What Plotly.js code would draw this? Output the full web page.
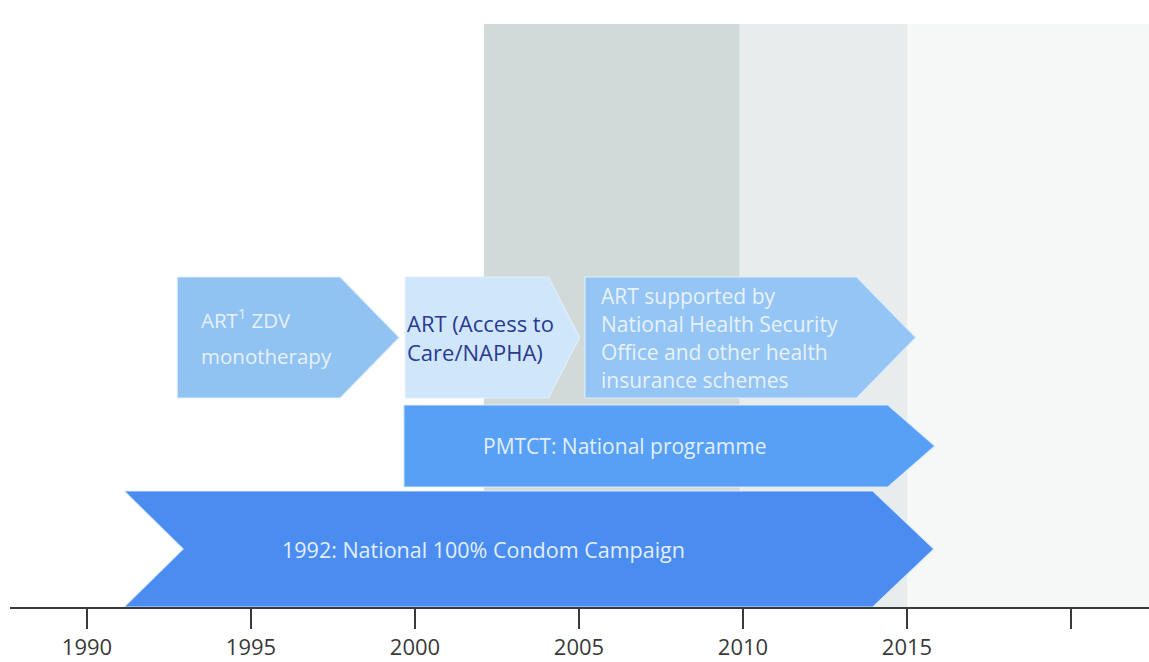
<!DOCTYPE html>
<html>
<head>
<meta charset="utf-8">
<script src="https://cdn.plot.ly/plotly-3.0.1.min.js"></script>
<style>
  html, body { margin: 0; padding: 0; background: #ffffff; }
  #chart { width: 1149px; height: 662px; }
</style>
</head>
<body>
<div id="chart"></div>
<script>
// ---------------- DATA ----------------
const programmeLines = [
  ['ART<sup>1</sup> ZDV', 'monotherapy'],
  ['ART (Access to', 'Care/NAPHA)'],
  ['ART supported by', 'National Health Security', 'Office and other health', 'insurance schemes'],
  ['PMTCT: National programme'],
  ['1992: National 100% Condom Campaign']
];
const startYear = [1992.75, 1999.70, 2005.18, 1999.66, 1991.13];
const endYear   = [1999.52, 2005.02, 2015.27, 2015.85, 2015.82];
const lane      = ['art', 'art', 'art', 'pmtct', 'condom'];

const periodStart = [2002.1, 2009.9, 2015.0];
const periodEnd   = [2009.9, 2015.0, 2022.4];

const tickYears  = [1990, 1995, 2000, 2005, 2010, 2015];
const tickLabels = ['1990', '1995', '2000', '2005', '2010', '2015'];
const unlabelledTickYears = [2020];

// ---------------- STYLE ----------------
const laneBand = { art: [209, 330], pmtct: [120, 202], condom: [0, 116] };
const headDepth = [1.80, 0.95, 1.80, 1.43, 1.86];
const notchDepth = [0, 0, 0, 0, 1.80];
const fillColors = ['#91c3f2', '#d0e7fb', '#94c5f4', '#57a0f6', '#4a8cf0'];
const textColors = ['#e6f1fc', '#2b3a8f', '#e8f2fc', '#e2effd', '#e2effd'];
const textAlign  = ['left', 'left', 'left', 'center', 'center'];
const textX      = [1993.42, 1999.70, 2005.6, 2006.4, 2002.1];
const lineGap    = [37, 29, 28, 0, 0];
const textSize   = [20.5, 22, 21, 21, 21.5];
const periodColors = ['#d1dad9', '#e8ecec', '#f6f7f7'];

const FONT = '"Open Sans", "Noto Sans", sans-serif';

const traces = [];
const annotations = [];

programmeLines.forEach((lines, i) => {
  const [yb, yt] = laneBand[lane[i]];
  const ym = (yb + yt) / 2;
  const x0 = startYear[i], x1 = endYear[i];
  const h = headDepth[i], n = notchDepth[i];
  traces.push({
    type: 'scatter',
    mode: 'lines',
    x: [x0, x1 - h, x1, x1 - h, x0, x0 + n, x0],
    y: [yt, yt, ym, yb, yb, ym, yt],
    fill: 'toself',
    fillcolor: fillColors[i],
    line: { color: 'rgba(225,238,252,0.9)', width: 1.2 },
    hoverinfo: 'skip',
    showlegend: false
  });
  const nLines = lines.length;
  lines.forEach((t, k) => {
    const y = ym + ((nLines - 1) / 2 - k) * lineGap[i];
    annotations.push({
      x: textX[i], y: y, xref: 'x', yref: 'y',
      text: t, showarrow: false,
      xanchor: textAlign[i], yanchor: 'middle',
      font: { family: FONT, size: textSize[i], color: textColors[i] }
    });
  });
});

const shapes = periodStart.map((s, i) => ({
  type: 'rect', xref: 'x', yref: 'paper',
  x0: s, x1: periodEnd[i], y0: 0, y1: 0.9605,
  fillcolor: periodColors[i], line: { width: 0 }, layer: 'below'
}));

const layout = {
  width: 1149, height: 662,
  margin: { l: 10, r: 0, t: 0, b: 55 },
  paper_bgcolor: '#ffffff',
  plot_bgcolor: 'rgba(0,0,0,0)',
  showlegend: false,
  xaxis: {
    range: [1987.652, 2022.378],
    tickmode: 'array',
    tickvals: tickYears, ticktext: tickLabels,
    ticks: 'outside', ticklen: 20, tickwidth: 1.5, tickcolor: '#3a3a3a',
    minor: {
      tickmode: 'array', tickvals: unlabelledTickYears,
      ticks: 'outside', ticklen: 20, tickwidth: 1.5, tickcolor: '#3a3a3a', showgrid: false
    },
    showline: true, linecolor: '#3a3a3a', linewidth: 1.5,
    showgrid: false, zeroline: false,
    tickfont: { family: FONT, size: 22, color: '#3a3a3a' },
    layer: 'below traces', fixedrange: true
  },
  yaxis: {
    range: [0, 607], visible: false, showgrid: false, zeroline: false, fixedrange: true
  },
  shapes: shapes,
  annotations: annotations
};

Plotly.newPlot('chart', traces, layout, { displayModeBar: false, staticPlot: true });
</script>
</body>
</html>
